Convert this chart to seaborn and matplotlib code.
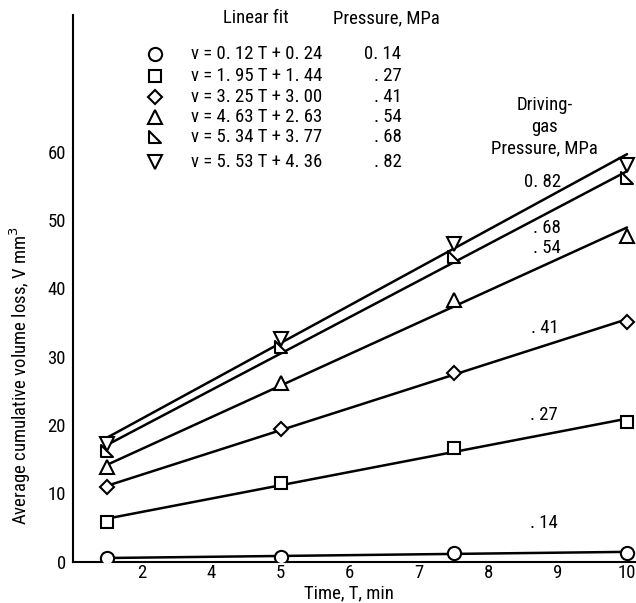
import matplotlib
matplotlib.use("Agg")
import matplotlib.pyplot as plt
import seaborn as sns
import pandas as pd
import numpy as np
from matplotlib.path import Path
from matplotlib import font_manager

sns.set_theme(style="white")
available = {f.name for f in font_manager.fontManager.ttflist}
cands = ['Liberation Sans Narrow', 'DejaVu Sans Condensed', 'Roboto Condensed',
         'Open Sans Condensed', 'Noto Sans Condensed']
fams = [c for c in cands if c in available]
narrow = len(fams) > 0
plt.rcParams['font.family'] = fams + ['DejaVu Sans']
plt.rcParams['text.color'] = 'black'
plt.rcParams['axes.labelcolor'] = 'black'
plt.rcParams['xtick.color'] = 'black'
plt.rcParams['ytick.color'] = 'black'

# ---------------- data ----------------
times = [2.5, 5, 7.5, 10]
pressures = ["0. 14", ". 27", ". 41", ". 54", ". 68", ". 82"]
v_014 = [0.5, 0.7, 1.2, 1.2]
v_027 = [5.8, 11.5, 16.7, 20.5]
v_041 = [11.0, 19.5, 27.6, 35.1]
v_054 = [13.8, 26.2, 38.3, 47.7]
v_068 = [16.2, 31.4, 44.6, 56.2]
v_082 = [17.3, 32.6, 46.5, 58.1]
slopes = [0.12, 1.95, 3.25, 4.63, 5.34, 5.53]
intercepts = [0.24, 1.44, 3.00, 2.63, 3.77, 4.36]
equations = ["v = 0. 12 T + 0. 24", "v = 1. 95 T + 1. 44", "v = 3. 25 T + 3. 00",
             "v = 4. 63 T + 2. 63", "v = 5. 34 T + 3. 77", "v = 5. 53 T + 4. 36"]
line_labels = [". 14", ". 27", ". 41", ". 54", ". 68", "0. 82"]
xtick_pos = [3, 4, 5, 6, 7, 8, 9, 10]
xtick_labels = ["2", "4", "5", "6", "7", "8", "9", "10"]
ytick_pos = [0, 10, 20, 30, 40, 50, 60]

series = [v_014, v_027, v_041, v_054, v_068, v_082]

# ---------------- styles ----------------
right_tri = Path([(-1, 1), (-1, -1), (1, -1), (-1, 1)],
                 [Path.MOVETO, Path.LINETO, Path.LINETO, Path.CLOSEPOLY])
markers = ['o', 's', 'D', '^', right_tri, 'v']
msizes = [9.5, 9.0, 7.0, 10.0, 8.5, 10.0]

fig = plt.figure(figsize=(6.36, 6.03), dpi=100)
ax = fig.add_axes([0.1143, 0.0685, 0.8857, 0.9062])

fs = 13.5 if narrow else 11.5
for i, vals in enumerate(series):
    xs = [times[0], times[-1]]
    ys = [slopes[i] * x + intercepts[i] for x in xs]
    sns.lineplot(x=xs, y=ys, ax=ax, color='black', lw=1.8, zorder=2)
    sns.lineplot(x=times, y=vals, ax=ax, linestyle='none', marker=markers[i],
                 markersize=msizes[i], markerfacecolor='white',
                 markeredgecolor='black', markeredgewidth=1.5, zorder=3)

ax.set_xlim(2, 10.13)
ax.set_ylim(0, 80)
ax.set_xticks(xtick_pos)
ax.set_xticklabels(xtick_labels)
ax.set_yticks(ytick_pos)
ax.tick_params(axis='both', direction='in', length=15, width=1.2,
               colors='black', labelsize=fs, pad=5)
ax.tick_params(axis='x', pad=2)
for s in ['top', 'right']:
    ax.spines[s].set_visible(False)
for s in ['left', 'bottom']:
    ax.spines[s].set_color('black')
    ax.spines[s].set_linewidth(1.5)

ax.set_xlabel("Time, T, min", fontsize=fs)
ax.xaxis.label.set_va('center')
ax.xaxis.set_label_coords(0.4905, -0.0573)
ax.set_ylabel("Average cumulative volume loss, V mm$^3$", fontsize=fs)
ax.yaxis.label.set_va('center')
ax.yaxis.set_label_coords(-0.0936, 0.34)

# ---------------- legend block ----------------
def px_to_data(px, py):
    return 2 + (px - 72.7) / 69.4, (561.7 - py) / 6.83

hx, hy = px_to_data(256, 18)
ax.text(hx, hy, "Linear fit", ha='center', va='center', fontsize=fs)
hx, hy = px_to_data(387, 18)
ax.text(hx, hy, "Pressure, MPa", ha='center', va='center', fontsize=fs)

row_py = [54, 76, 97.3, 116.7, 136.7, 161.7]
for i in range(6):
    mx, my = px_to_data(155, row_py[i])
    ax.plot([mx], [my], linestyle='none', marker=markers[i], markersize=msizes[i],
            markerfacecolor='white', markeredgecolor='black',
            markeredgewidth=1.5, clip_on=False)
    ex, ey = px_to_data(190.7, row_py[i])
    ax.text(ex, ey, equations[i], ha='left', va='center', fontsize=fs)
    px_, py_ = px_to_data(402, row_py[i])
    ax.text(px_, py_, pressures[i], ha='right', va='center', fontsize=fs)

for txt, py in [("Driving-", 105), ("gas", 127), ("Pressure, MPa", 148)]:
    tx, ty = px_to_data(545, py)
    ax.text(tx, ty, txt, ha='center', va='center', fontsize=fs)

label_pos = [(545, 523), (545, 415), (546, 328), (548, 248), (548, 228), (543, 182)]
for lab, (px, py) in zip(line_labels, label_pos):
    tx, ty = px_to_data(px, py)
    ax.text(tx, ty, lab, ha='center', va='center', fontsize=fs)

fig.savefig("out.png", dpi=100, facecolor='white')
